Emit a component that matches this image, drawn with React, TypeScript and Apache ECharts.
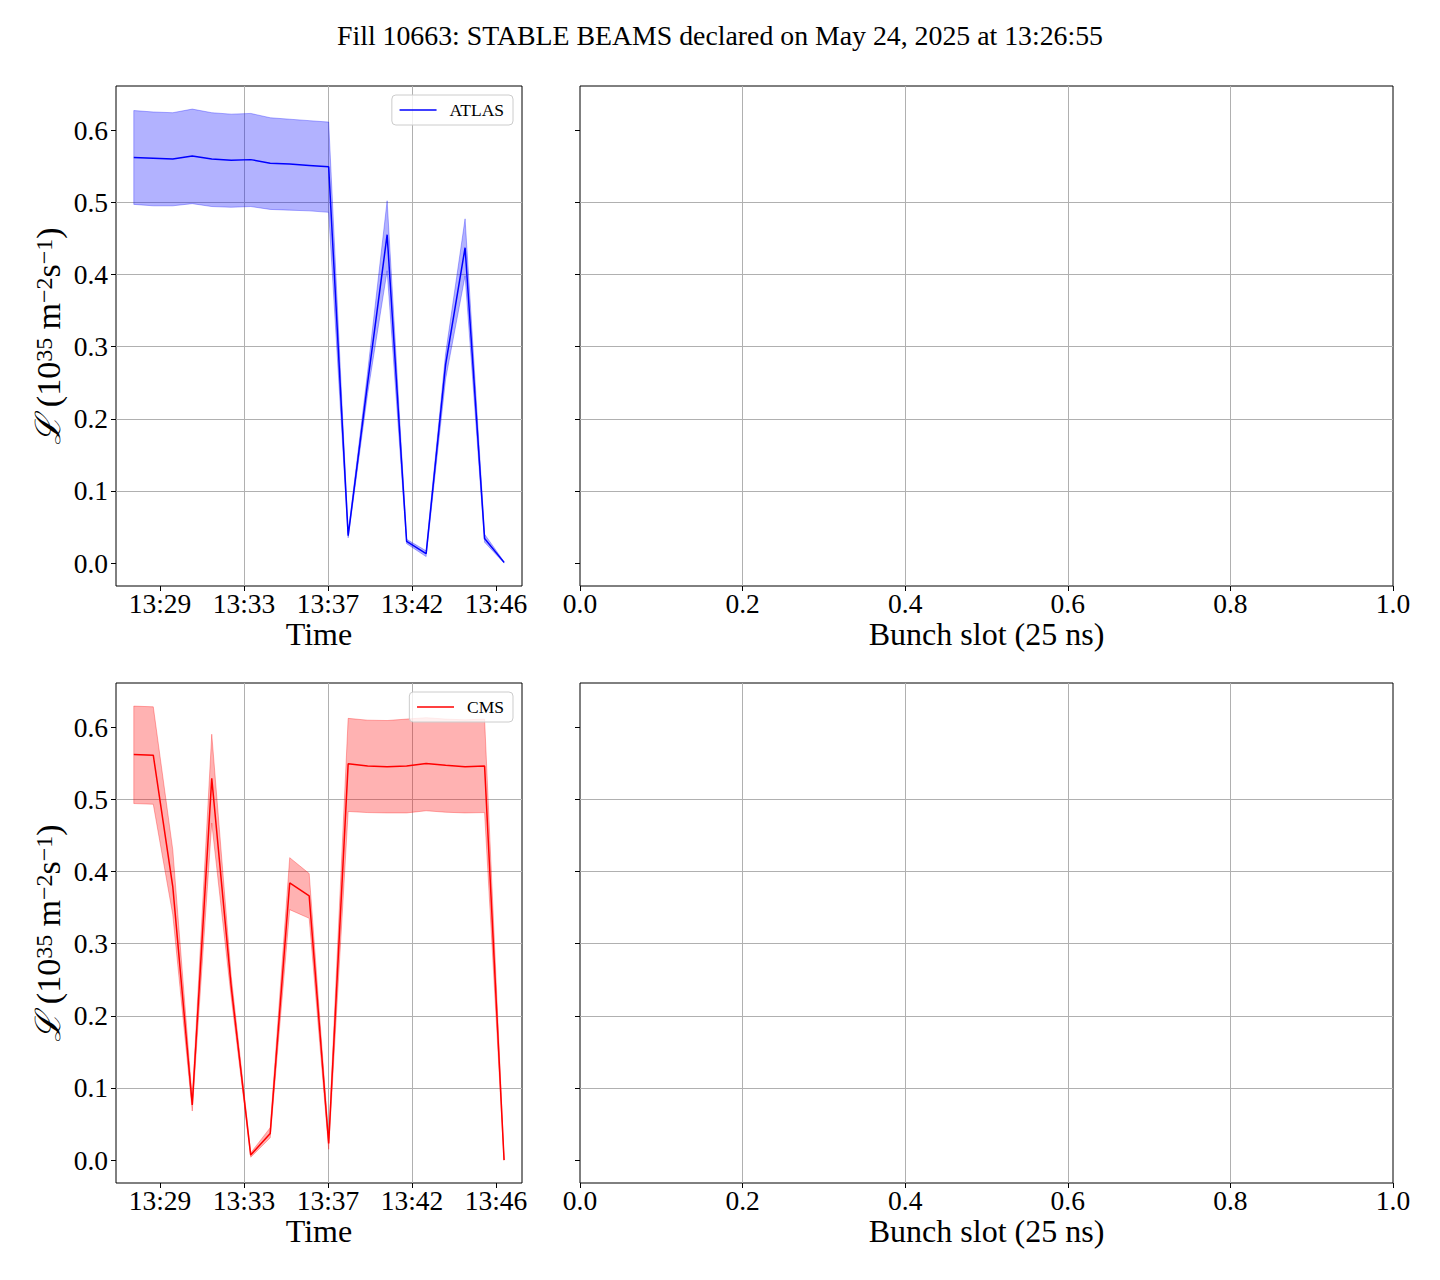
import React, { useEffect, useRef } from "react";
import * as echarts from "echarts";

// Sample timestamps (HH:MM:SS)
const times = [
  "13:28:17", "13:29:15", "13:30:13", "13:31:11", "13:32:09",
  "13:33:07", "13:34:05", "13:35:03", "13:36:01", "13:36:59",
  "13:37:57", "13:38:55", "13:39:53", "13:40:51", "13:41:49",
  "13:42:47", "13:43:45", "13:44:43", "13:45:41", "13:46:39",
];

// ATLAS luminosity (1e35 m^-2 s^-1): mean and band
const atlasMean = [0.562, 0.561, 0.560, 0.564, 0.560, 0.558, 0.559, 0.554, 0.553, 0.551, 0.549, 0.038, 0.25, 0.455, 0.030, 0.013, 0.275, 0.437, 0.034, 0.001];
const atlasLow = [0.497, 0.495, 0.495, 0.498, 0.494, 0.493, 0.494, 0.490, 0.489, 0.488, 0.486, 0.035, 0.235, 0.405, 0.027, 0.009, 0.255, 0.398, 0.029, 0.0];
const atlasHigh = [0.627, 0.625, 0.624, 0.629, 0.624, 0.622, 0.623, 0.617, 0.615, 0.613, 0.611, 0.041, 0.265, 0.502, 0.033, 0.017, 0.29, 0.477, 0.040, 0.002];

// CMS luminosity: mean and band
const cmsMean = [0.562, 0.561, 0.379, 0.0765, 0.529, 0.24, 0.007, 0.037, 0.384, 0.366, 0.023, 0.549, 0.546, 0.545, 0.546, 0.5495, 0.547, 0.545, 0.546, 0.0];
const cmsLow = [0.494, 0.493, 0.34, 0.068, 0.467, 0.225, 0.004, 0.031, 0.347, 0.335, 0.015, 0.483, 0.4815, 0.481, 0.481, 0.484, 0.482, 0.481, 0.4815, 0.0];
const cmsHigh = [0.629, 0.628, 0.43, 0.085, 0.590, 0.255, 0.010, 0.045, 0.419, 0.397, 0.030, 0.612, 0.6095, 0.609, 0.611, 0.613, 0.611, 0.610, 0.611, 0.001];

// Tick values
const timeTicks = [0, 1, 2, 3, 4]; // steps of 250 s from 13:29:35
const slotTicks = [0, 0.2, 0.4, 0.6, 0.8, 1.0];
const lumiTicks = [0, 0.1, 0.2, 0.3, 0.4, 0.5, 0.6];

const titleText = "Fill 10663: STABLE BEAMS declared on May 24, 2025 at 13:26:55";

const T0 = 13 * 3600 + 29 * 60 + 35;
const STEP = 250;
const FONT = '"Liberation Serif", "Times New Roman", serif';

function toUnit(t: string): number {
  const [h, m, s] = t.split(":").map(Number);
  return (h * 3600 + m * 60 + s - T0) / STEP;
}
function fmtTime(v: number): string {
  const tot = Math.round(T0 + v * STEP);
  const h = Math.floor(tot / 3600);
  const m = Math.floor((tot % 3600) / 60);
  return `${h}:${String(m).padStart(2, "0")}`;
}

function bandSeries(name: string, idx: number, mean: number[], low: number[], high: number[], color: string, fill: string) {
  const xs = times.map(toUnit);
  return [
    {
      type: "custom", name: name + " band", xAxisIndex: idx, yAxisIndex: idx, silent: true,
      data: xs.map((x, i) => [x, low[i], high[i]]),
      encode: { x: 0, y: [1, 2] },
      renderItem: (params: any, api: any) => {
        if (params.dataIndex !== 0) return null;
        const pts: number[][] = [];
        for (let i = 0; i < xs.length; i++) pts.push(api.coord([xs[i], high[i]]));
        for (let i = xs.length - 1; i >= 0; i--) pts.push(api.coord([xs[i], low[i]]));
        return { type: "polygon", shape: { points: pts }, style: { fill, stroke: fill, lineWidth: 1 } };
      },
      z: 1,
    },
    {
      type: "line", name, xAxisIndex: idx, yAxisIndex: idx,
      data: xs.map((x, i) => [x, mean[i]]), symbol: "none",
      lineStyle: { color, width: 1.5 }, itemStyle: { color }, z: 3,
    },
  ];
}

const tickStyle = { color: "#000", width: 1 };
const splitStyle = { color: "#b0b0b0", width: 1 };

function timeXAxis(gridIndex: number) {
  return {
    type: "value", gridIndex, min: -0.5238, max: 4.3095, position: "bottom",
    axisLine: { show: false, onZero: false },
    axisTick: { show: true, customValues: timeTicks, length: 5, lineStyle: tickStyle },
    axisLabel: { customValues: timeTicks, formatter: fmtTime, fontSize: 27.5, fontFamily: FONT, color: "#000", margin: 3 },
    splitLine: { show: true, showMinLine: false, showMaxLine: false, lineStyle: splitStyle },
    name: "Time", nameLocation: "middle", nameGap: 32,
    nameTextStyle: { fontSize: 32, fontFamily: FONT, color: "#000" },
  };
}
function slotXAxis(gridIndex: number) {
  return {
    type: "value", gridIndex, min: 0, max: 1, position: "bottom",
    axisLine: { show: false, onZero: false },
    axisTick: { show: true, customValues: slotTicks, length: 5, lineStyle: tickStyle },
    axisLabel: { customValues: slotTicks, formatter: (v: number) => v.toFixed(1), fontSize: 27.5, fontFamily: FONT, color: "#000", margin: 3 },
    splitLine: { show: true, showMinLine: false, showMaxLine: false, lineStyle: splitStyle },
    name: "Bunch slot (25 ns)", nameLocation: "middle", nameGap: 32,
    nameTextStyle: { fontSize: 32, fontFamily: FONT, color: "#000" },
  };
}
const yName = "{L|ℒ}{n| (10}{sup|35}{n| m}{sup|−2}{n|s}{sup|−1}{n|)}";
function lumiYAxis(gridIndex: number, labels: boolean) {
  return {
    type: "value", gridIndex, min: -0.0317, max: 0.661, position: "left",
    axisLine: { show: false, onZero: false },
    axisTick: { show: true, customValues: lumiTicks, length: 5, lineStyle: tickStyle },
    axisLabel: labels
      ? { customValues: lumiTicks, formatter: (v: number) => v.toFixed(1), fontSize: 27.5, fontFamily: FONT, color: "#000", margin: 8 }
      : { show: false },
    splitLine: { show: true, showMinLine: false, showMaxLine: false, lineStyle: splitStyle },
    name: labels ? yName : "",
    nameLocation: "middle", nameGap: 44,
    nameTextStyle: {
      fontSize: 34, fontFamily: FONT, color: "#000",
      rich: {
        n: { fontSize: 34, fontFamily: FONT, lineHeight: 34, verticalAlign: "bottom", color: "#000" },
        L: { fontSize: 35, fontFamily: '"DejaVu Serif", serif', fontStyle: "italic", lineHeight: 34, verticalAlign: "bottom", color: "#000" },
        sup: { fontSize: 24, fontFamily: FONT, lineHeight: 24, verticalAlign: "top", padding: [0, 0, 14, 0], color: "#000" },
      },
    },
  };
}

function legendFor(name: string, top: number) {
  return {
    data: [name], right: 927, top, orient: "horizontal",
    backgroundColor: "rgba(255,255,255,0.8)", borderColor: "#cccccc", borderWidth: 1, borderRadius: 4,
    padding: [6, 9, 6, 7], itemWidth: 37, itemHeight: 17,
    itemStyle: { opacity: 0, borderWidth: 0 },
    lineStyle: { width: 1.4 },
    textStyle: { fontSize: 17.5, fontFamily: FONT, color: "#000", padding: [0, 0, 0, 8] },
  };
}

export default function App() {
  const ref = useRef<HTMLDivElement>(null);
  useEffect(() => {
    if (!ref.current) return;
    const chart = echarts.init(ref.current, null, { renderer: "svg" });
    const gridBase = { show: true, borderColor: "#000", borderWidth: 1, backgroundColor: "transparent", containLabel: false };
    chart.setOption({
      animation: false,
      backgroundColor: "#fff",
      title: {
        text: titleText, left: "center", top: 16,
        textStyle: { fontSize: 27.8, fontWeight: "normal", fontFamily: FONT, color: "#000" },
      },
      legend: [legendFor("ATLAS", 95), legendFor("CMS", 692)],
      grid: [
        { ...gridBase, left: 116, top: 86, width: 406, height: 500 },
        { ...gridBase, left: 580, top: 86, width: 813, height: 500 },
        { ...gridBase, left: 116, top: 683, width: 406, height: 500 },
        { ...gridBase, left: 580, top: 683, width: 813, height: 500 },
      ],
      xAxis: [timeXAxis(0), slotXAxis(1), timeXAxis(2), slotXAxis(3)],
      yAxis: [lumiYAxis(0, true), lumiYAxis(1, false), lumiYAxis(2, true), lumiYAxis(3, false)],
      series: [
        ...bandSeries("ATLAS", 0, atlasMean, atlasLow, atlasHigh, "#0000ff", "rgba(0,0,255,0.3)"),
        ...bandSeries("CMS", 2, cmsMean, cmsLow, cmsHigh, "#ff0000", "rgba(255,0,0,0.3)"),
        { type: "line", name: "empty1", xAxisIndex: 1, yAxisIndex: 1, data: [], symbol: "none" },
        { type: "line", name: "empty3", xAxisIndex: 3, yAxisIndex: 3, data: [], symbol: "none" },
      ],
    });
    return () => chart.dispose();
  }, []);
  return <div ref={ref} style={{ position: "absolute", left: 0, top: 0, width: 1440, height: 1280 }} />;
}
